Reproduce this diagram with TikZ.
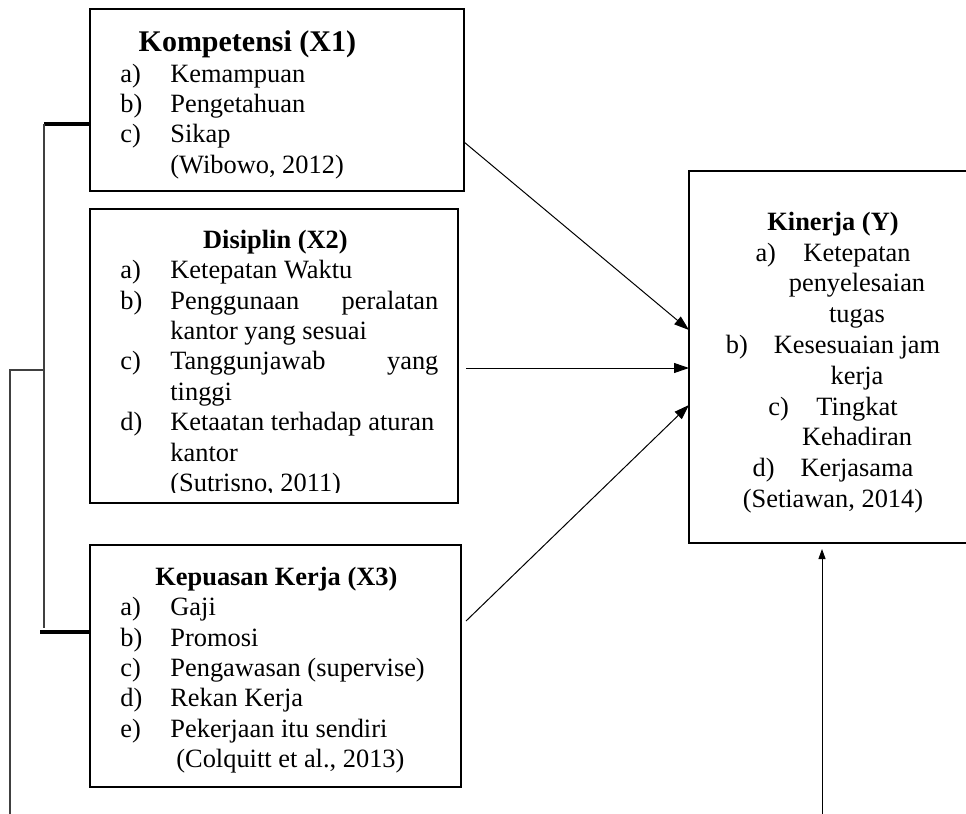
\documentclass[tikz,border=0pt]{standalone}
\usepackage{fontspec}
\setmainfont{Liberation Serif}
\usepackage{array}
\usetikzlibrary{arrows.meta,positioning,calc}

\begin{document}
\begin{tikzpicture}[
    x=0.5pt, y=-0.5pt,
    box/.style={rectangle, draw, line width=1.4pt, inner sep=0pt, outer sep=0pt, anchor=north west},
    txt/.style={inner sep=0pt, anchor=north west, font=\fontsize{13.2}{15.2}\selectfont},
    arrow/.style={-{Triangle[length=7.5pt,width=5pt]}, line width=0.5pt},
    smallarrow/.style={-{Triangle[length=5pt,width=3.5pt]}, line width=0.5pt},
    thickline/.style={line width=1.7pt},
    thinline/.style={line width=0.7pt, draw=black!75}
]
\useasboundingbox (0,0) rectangle (966,814);
\clip (0,0) rectangle (966,814);

% Variabel bebas
\node[box, minimum width=187pt, minimum height=91pt] (komp) at (90,9) {};
\node[txt] (kompT) at (120,30) {%
\begin{tabular}{@{}p{25pt}@{}p{134pt}@{}}
\multicolumn{2}{@{}c@{}}{{\fontsize{15}{15.2}\selectfont\textbf{Kompetensi (X1)}}\hspace*{32pt}}\\
a) & Kemampuan\\
b) & Pengetahuan\\
c) & Sikap\\
   & (Wibowo, 2012)
\end{tabular}};

\node[box, minimum width=184pt, minimum height=147pt] (disip) at (90,209) {};
\begin{scope}
\clip (90,209) rectangle (458,492);
\node[txt] (disipT) at (120,226.7) {%
\begin{tabular}{@{}p{25pt}@{}p{134pt}@{}}
\multicolumn{2}{@{}c@{}}{\textbf{Disiplin (X2)}\hspace*{4pt}}\\
a) & Ketepatan Waktu\\
b) & Penggunaan \hfill peralatan\newline kantor yang sesuai\\
c) & Tanggunjawab \hfill yang\newline tinggi\\
d) & Ketaatan terhadap aturan\newline kantor\\
   & (Sutrisno, 2011)
\end{tabular}};
\end{scope}

\node[box, minimum width=185.5pt, minimum height=121pt] (puas) at (90,545) {};
\node[txt] (puasT) at (120,563.7) {%
\begin{tabular}{@{}p{25pt}@{}p{134pt}@{}}
\multicolumn{2}{@{}c@{}}{\textbf{Kepuasan Kerja (X3)}\hspace*{3pt}}\\
a) & Gaji\\
b) & Promosi\\
c) & Pengawasan (supervise)\\
d) & Rekan Kerja\\
e) & Pekerjaan itu sendiri\\
   & \hspace*{3pt}(Colquitt et al., 2013)
\end{tabular}};

% Variabel terikat
\node[box, minimum width=160pt, minimum height=186pt] (kinerja) at (689,171) {};
\node[txt, anchor=north, font=\fontsize{13.2}{15.4}\selectfont] (kinerjaT) at (833,208.4) {%
\begin{tabular}{@{}c@{}}
\textbf{Kinerja (Y)}\\
\makebox[24pt][l]{a)}Ketepatan\\
\hspace*{24pt}penyelesaian\\
\hspace*{24pt}tugas\\
\makebox[24pt][l]{b)}Kesesuaian jam\\
\hspace*{24pt}kerja\\
\makebox[24pt][l]{c)}Tingkat\\
\hspace*{24pt}Kehadiran\\
\makebox[24pt][l]{d)}Kerjasama\\
(Setiawan, 2014)
\end{tabular}};

% Panah
\draw[arrow] ($(komp.north east)+(0,133)$) -- ($(kinerja.north west)+(0,159)$);
\draw[arrow] ($(disip.north east)+(8,159)$) -- ($(kinerja.north west)+(0,197)$);
\draw[arrow] ($(puas.north east)+(5,76)$) -- ($(kinerja.north west)+(0,234)$);
\coordinate (bawah) at (822,814);
\draw[smallarrow] (bawah) -- ($(bawah |- kinerja.south)+(0,6)$);

% Garis kiri
\coordinate (bTop) at (44,124);
\coordinate (bBot) at (44,632);
\coordinate (bMid) at (44,370);
\coordinate (bOut) at (10,370);
\coordinate (bEnd) at (10,814);
\draw[thickline] (bTop) -- (komp.west |- bTop);
\draw[thinline] (bTop) -- ($(bBot)+(0,-4)$);
\draw[thickline] ($(bBot)+(-4,0)$) -- (puas.west |- bBot);
\draw[thinline] (bMid) -- (bOut) -- (bEnd);

\end{tikzpicture}
\end{document}
